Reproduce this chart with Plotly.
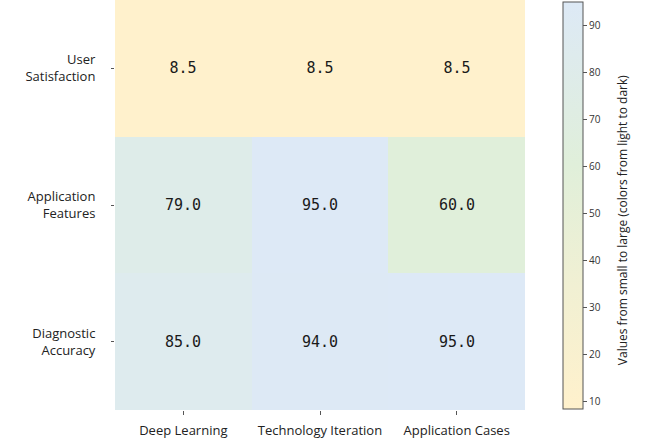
import plotly.graph_objects as go

categories_x = ["Deep Learning", "Technology Iteration", "Application Cases"]
categories_y = ["Diagnostic Accuracy", "Application Features", "User Satisfaction"]
y_tick_labels = ["Diagnostic<br>Accuracy", "Application<br>Features", "User<br>Satisfaction"]
diagnostic_accuracy = [85.0, 94.0, 95.0]
application_features = [79.0, 95.0, 60.0]
user_satisfaction = [8.5, 8.5, 8.5]
z = [diagnostic_accuracy, application_features, user_satisfaction]
text = [[f"{v:.1f}" for v in row] for row in z]
colorbar_title = "Values from small to large (colors from light to dark)"

colorscale = [
    [0.0, "#FFF1CC"],
    [0.3, "#F1F0D3"],
    [0.6, "#E0EFDA"],
    [1.0, "#DDE9F6"],
]

fig = go.Figure(go.Heatmap(
    z=z, x=categories_x, y=categories_y,
    text=text, texttemplate="%{text}",
    textfont=dict(family="DejaVu Sans Mono", size=15, color="#1a1a1a"),
    colorscale=colorscale, zmin=8.5, zmax=95, xgap=0, ygap=0,
    colorbar=dict(
        x=1.093, xanchor="left", xpad=0, y=0.4988, yanchor="middle", ypad=0,
        len=0.993, lenmode="fraction", thickness=20, thicknessmode="pixels",
        outlinewidth=1, outlinecolor="#555555",
        tickvals=[10, 20, 30, 40, 50, 60, 70, 80, 90],
        ticks="outside", ticklen=4, tickcolor="#555555",
        tickfont=dict(family="Open Sans", size=10, color="#333333"),
    ),
))

fig.add_annotation(
    text=colorbar_title, textangle=-90, showarrow=False,
    xref="paper", yref="paper", x=1.2366, y=0.463,
    xanchor="center", yanchor="middle",
    font=dict(family="Open Sans", size=12, color="#222222"),
)

fig.update_layout(
    width=656, height=442,
    margin=dict(l=115, r=131, t=0, b=32),
    paper_bgcolor="white", plot_bgcolor="white",
    font=dict(family="Open Sans", size=13, color="#333333"),
)
fig.update_xaxes(ticks="outside", ticklen=4, tickcolor="#555555", showgrid=False,
                 zeroline=False, showline=False, ticklabelstandoff=4,
                 tickfont=dict(family="Open Sans", size=13, color="#222222"))
fig.update_yaxes(ticks="outside", ticklen=3, tickcolor="#555555", showgrid=False,
                 zeroline=False, showline=False, ticklabelstandoff=13,
                 tickvals=categories_y, ticktext=y_tick_labels,
                 tickfont=dict(family="Open Sans", size=13, color="#222222"))

fig.write_html("out.html", config={"displayModeBar": False},
               post_script="document.body.style.margin='0';")
